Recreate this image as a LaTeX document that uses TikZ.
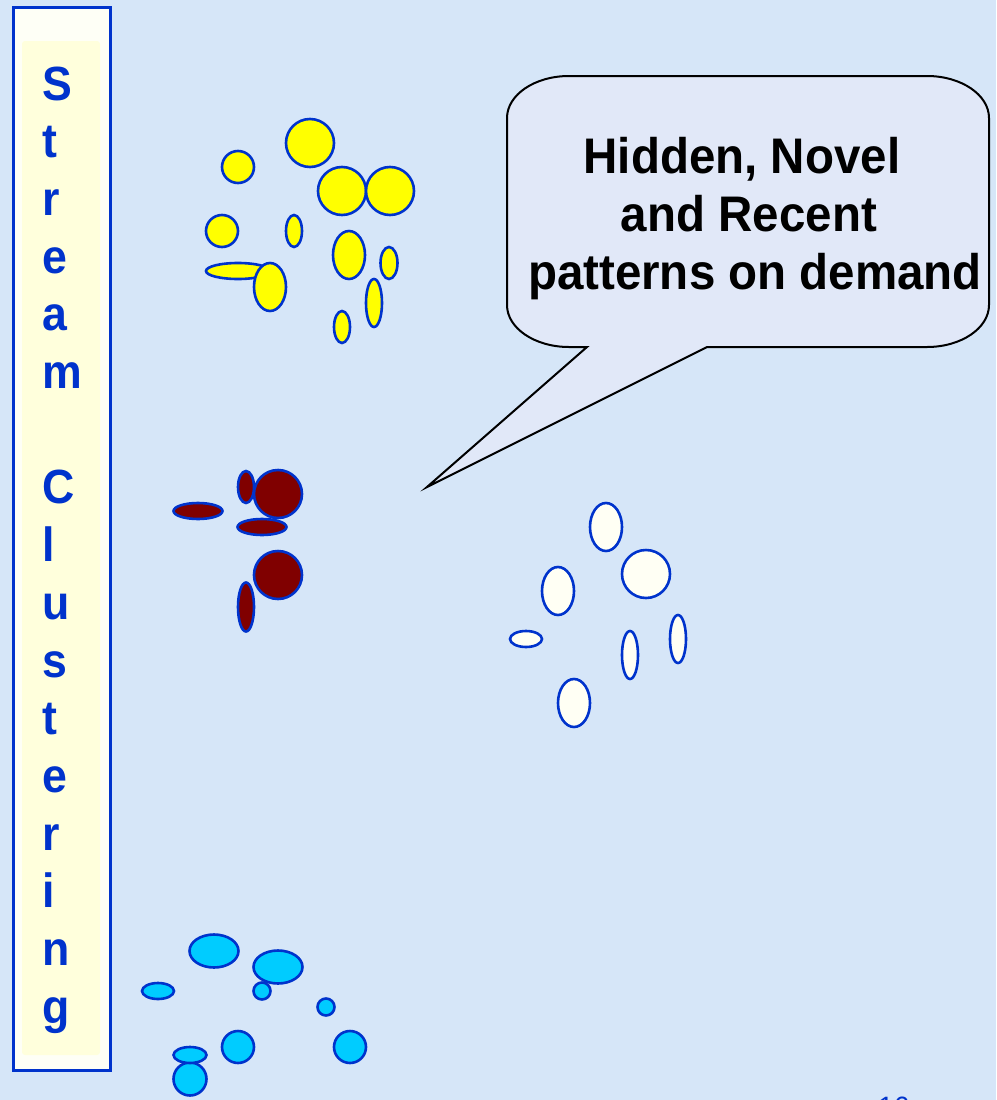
\documentclass[tikz,border=0pt]{standalone}
\usepackage{fontspec}
\setmainfont{Liberation Sans}
\usepackage{graphicx}

\definecolor{pagebg}{RGB}{214,230,248}
\definecolor{edgeblue}{RGB}{0,51,204}
\definecolor{barwhite}{RGB}{254,255,246}
\definecolor{baryellow}{RGB}{255,255,220}
\definecolor{calloutfill}{RGB}{225,232,248}
\definecolor{dotyellow}{RGB}{255,255,0}
\definecolor{dotmaroon}{RGB}{128,0,0}
\definecolor{dotwhite}{RGB}{255,255,244}
\definecolor{dotcyan}{RGB}{0,204,255}

% one filled cluster member: fill, centre x, centre y, x radius, y radius
\newcommand\blob[5]{\filldraw[blobline,fill=#1] (#2,#3) ellipse [x radius=#4pt, y radius=#5pt];}

\begin{document}
\begin{tikzpicture}[x=1pt,y=-1pt,
  blobline/.style={draw=edgeblue,line width=2.6pt},
  barletter/.style={anchor=base west,inner sep=0pt,text=edgeblue,
    font=\fontsize{48}{58}\bfseries\selectfont},
  callouttext/.style={anchor=base,inner sep=0pt,text=black,
    font=\fontsize{50}{58}\bfseries\selectfont},
  pagenum/.style={anchor=base west,inner sep=0pt,text=edgeblue,
    font=\fontsize{28}{34}\selectfont}]
\useasboundingbox (0,0) rectangle (996,1100);
\clip (0,0) rectangle (996,1100);
\fill[pagebg] (0,0) rectangle (996,1100);

% vertical title bar
\filldraw[fill=barwhite,draw=edgeblue,line width=3pt] (13,7) rectangle (110,1070);
\fill[baryellow,rounded corners=3pt] (22,41) rectangle (100,1055);
\foreach \ch/\k in {S/0,t/1,r/2,e/3,a/4,m/5,C/7,l/8,u/9,s/10,t/11,e/12,r/13,i/14,n/15,g/16}
  \node[barletter] (bar\k) at (42,{100+57.7*\k}) {\scalebox{0.93}[1]{\ch}};

% yellow cluster
\blob{dotyellow}{238}{167}{16}{16}
\blob{dotyellow}{310}{143}{24}{24}
\blob{dotyellow}{342}{191}{24}{24}
\blob{dotyellow}{390}{191}{24}{24}
\blob{dotyellow}{222}{231}{16}{16}
\blob{dotyellow}{294}{231}{8}{16}
\blob{dotyellow}{349}{255}{16}{24}
\blob{dotyellow}{389}{263}{8.5}{16}
\blob{dotyellow}{238}{271}{32}{8}
\blob{dotyellow}{270}{287}{16}{24}
\blob{dotyellow}{374}{303}{8}{24}
\blob{dotyellow}{342}{327}{8}{16}

% maroon cluster
\blob{dotmaroon}{246}{487}{8}{16}
\blob{dotmaroon}{278}{494}{24}{24}
\blob{dotmaroon}{198}{511}{24.5}{8}
\blob{dotmaroon}{262}{527}{24.5}{8}
\blob{dotmaroon}{278}{575}{24}{24}
\blob{dotmaroon}{246}{607}{8}{24.5}

% white cluster
\blob{dotwhite}{606}{527}{16}{24}
\blob{dotwhite}{646}{574}{24}{24}
\blob{dotwhite}{558}{591}{16}{24}
\blob{dotwhite}{526}{639}{16}{8}
\blob{dotwhite}{630}{655}{8}{24}
\blob{dotwhite}{678}{639}{8}{24}
\blob{dotwhite}{574}{703}{16}{24}

% cyan cluster
\blob{dotcyan}{214}{951}{24.5}{16.5}
\blob{dotcyan}{278}{967}{24.5}{16.5}
\blob{dotcyan}{158}{991}{16}{8}
\blob{dotcyan}{262}{991}{8.5}{8.5}
\blob{dotcyan}{326}{1007}{8.5}{8.5}
\blob{dotcyan}{238}{1047}{16}{16}
\blob{dotcyan}{350}{1047}{16}{16}
\blob{dotcyan}{190}{1079}{16.5}{16.5}
\blob{dotcyan}{190}{1055}{16.5}{8}

% speech bubble
\filldraw[fill=calloutfill,draw=black,line width=2pt,line join=miter]
  (569,76) -- (927,76)
  .. controls (961.2,76) and (989,94.8) .. (989,118)
  -- (989,305)
  .. controls (989,328.2) and (961.2,347) .. (927,347)
  -- (707,347) -- (427,487) -- (587,347) -- (569,347)
  .. controls (534.8,347) and (507,328.2) .. (507,305)
  -- (507,118)
  .. controls (507,94.8) and (534.8,76) .. (569,76) -- cycle;
\node[callouttext] (calloutA) at (742,173) {\scalebox{0.95}[1]{Hidden, Novel}};
\node[callouttext] (calloutB) at (749,231) {\scalebox{0.95}[1]{and Recent}};
\node[callouttext] (calloutC) at (755,289) {\scalebox{0.95}[1]{patterns on demand}};

% slide number, mostly below the page edge
\node[pagenum] (slideno) at (878,1116) {16};
\end{tikzpicture}
\end{document}
